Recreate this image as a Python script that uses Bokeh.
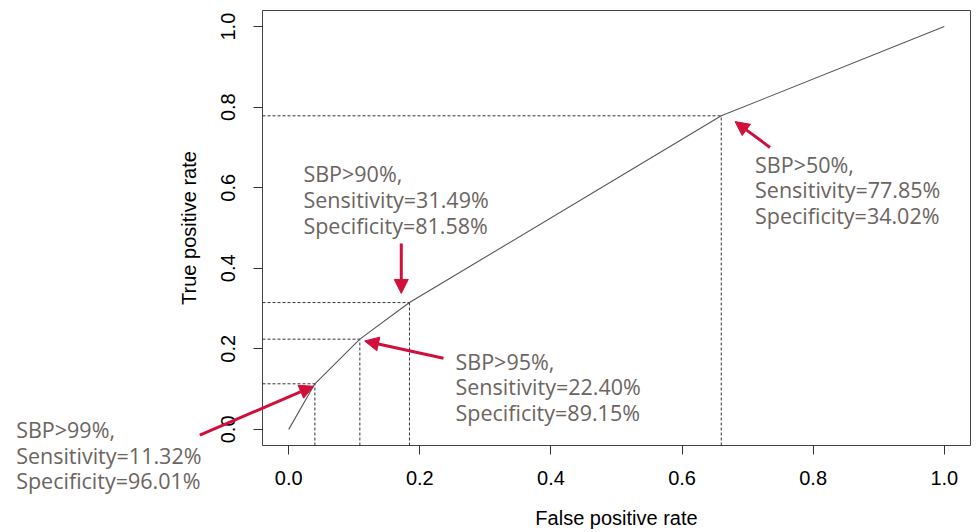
from bokeh.plotting import figure
from bokeh.models import Range1d, Arrow, NormalHead, Label, FixedTicker, PrintfTickFormatter
from bokeh.embed import file_html
from bokeh.resources import INLINE

# ---- data ----
cut_labels = ["SBP>99%,", "SBP>95%,", "SBP>90%,", "SBP>50%,"]
sensitivity = [11.32, 22.40, 31.49, 77.85]
specificity = [96.01, 89.15, 81.58, 34.02]
x_ticks = [0.0, 0.2, 0.4, 0.6, 0.8, 1.0]
y_ticks = [0.0, 0.2, 0.4, 0.6, 0.8, 1.0]

cut_fpr = [round(1 - s / 100, 4) for s in specificity]
cut_tpr = [s / 100 for s in sensitivity]
roc_x = [0.0] + sorted(cut_fpr) + [1.0]
roc_y = [0.0] + sorted(cut_tpr) + [1.0]

# ---- annotation placement (data units) ----
text_x = [-0.4158, 0.2544, 0.0224, 0.7113]
text_y = [-0.0005, 0.1691, 0.6347, 0.6583]
arrow_x0 = [-0.1356, 0.2361, 0.1717, 0.7342]
arrow_y0 = [-0.0141, 0.1766, 0.4614, 0.7000]
arrow_x1 = [0.0381, 0.1158, 0.1717, 0.6809]
arrow_y1 = [0.1072, 0.2195, 0.3375, 0.7642]

# plot box (R style, 4% padding) and the surrounding canvas, in data units
LO, HI = -0.04, 1.04
W, H = 978, 532
BOX_L, BOX_R, BOX_T, BOX_B = 262, 970, 10, 445   # pixel edges of the box
sx = (BOX_R - BOX_L) / (HI - LO)
sy = (BOX_B - BOX_T) / (HI - LO)
x_range = Range1d(LO - BOX_L / sx, HI + (W - BOX_R) / sx)
y_range = Range1d(LO - (H - BOX_B) / sy, HI + BOX_T / sy)

p = figure(width=W, height=H, x_range=x_range, y_range=y_range,
           output_backend="svg", toolbar_location=None,
           min_border_left=0, min_border_right=0, min_border_top=0, min_border_bottom=0)
p.background_fill_color = "white"
p.border_fill_color = "white"
p.outline_line_color = None
p.xgrid.visible = False
p.ygrid.visible = False

for ax, ticks, lbl in ((p.xaxis[0], x_ticks, "False positive rate"), (p.yaxis[0], y_ticks, "True positive rate")):
    ax.fixed_location = LO
    ax.bounds = (LO, HI)
    ax.ticker = FixedTicker(ticks=ticks)
    ax.formatter = PrintfTickFormatter(format="%.1f")
    ax.axis_line_color = None
    ax.major_tick_out = 9
    ax.major_tick_in = 0
    ax.major_tick_line_color = "#333333"
    ax.minor_tick_line_color = None
    ax.major_label_text_font = "Liberation Sans"
    ax.major_label_text_font_size = "20px"
    ax.major_label_text_color = "black"
    ax.axis_label = lbl
    ax.axis_label_text_font = "Liberation Sans"
    ax.axis_label_text_font_size = "20px"
    ax.axis_label_text_font_style = "normal"
    ax.axis_label_text_color = "black"

p.xaxis[0].major_label_standoff = 16
p.xaxis[0].axis_label_standoff = 19
p.yaxis[0].major_label_orientation = "vertical"
p.yaxis[0].major_label_standoff = 18
p.yaxis[0].axis_label_standoff = 19

# plot box
p.quad(left=[LO], right=[HI], bottom=[LO], top=[HI], fill_color=None,
       line_color="#444444", line_width=1)

# dashed guide lines
p.segment(x0=[LO] * len(cut_fpr), y0=cut_tpr, x1=cut_fpr, y1=cut_tpr,
          line_color="#333333", line_width=1, line_dash="3 2")
p.segment(x0=cut_fpr, y0=[LO] * len(cut_fpr), x1=cut_fpr, y1=cut_tpr,
          line_color="#333333", line_width=1, line_dash="3 2")

# ROC curve
p.line(roc_x, roc_y, line_color="#555555", line_width=1.1)

RED = "#d0103a"
TXT = "#6b6461"
GAP = 25.7
for i in range(len(cut_labels)):
    lines = [cut_labels[i], f"Sensitivity={sensitivity[i]:.2f}%", f"Specificity={specificity[i]:.2f}%"]
    for j, t in enumerate(lines):
        p.add_layout(Label(x=text_x[i], y=text_y[i], y_offset=-j * GAP, text=t,
                           text_font="Open Sans", text_font_size="21.5px", text_color=TXT,
                           text_align="left", text_baseline="middle"))
    p.add_layout(Arrow(end=NormalHead(size=14, fill_color=RED, line_color=RED, line_width=1),
                       x_start=arrow_x0[i], y_start=arrow_y0[i], x_end=arrow_x1[i], y_end=arrow_y1[i],
                       line_color=RED, line_width=3))

open("out.html", "w").write(file_html(p, INLINE))
